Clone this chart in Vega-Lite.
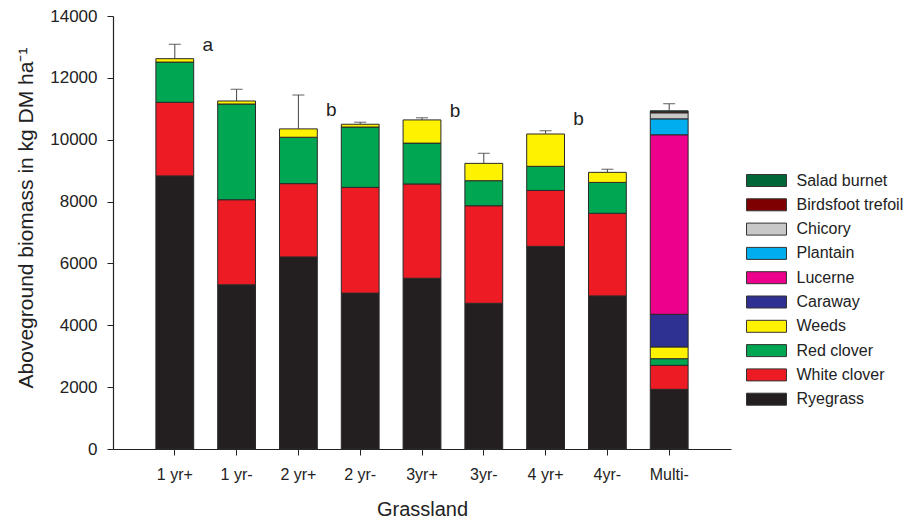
{
  "$schema": "https://vega.github.io/schema/vega-lite/v6.json",
  "width": 618,
  "height": 433,
  "autosize": {"type": "none"},
  "padding": {"left": 113, "top": 16, "right": 178, "bottom": 69},
  "background": "white",
  "config": {
    "view": {"stroke": null},
    "font": "Liberation Sans",
    "axis": {"grid": false, "domainColor": "#222", "tickColor": "#222", "labelColor": "#222", "titleColor": "#222", "titleFontWeight": "normal", "domainWidth": 1.2, "tickWidth": 1}
  },
  "datasets": {
    "bars": [
      {"grassland": "1 yr+", "species": "Ryegrass", "biomass": 8830},
      {"grassland": "1 yr+", "species": "White clover", "biomass": 2380},
      {"grassland": "1 yr+", "species": "Red clover", "biomass": 1300},
      {"grassland": "1 yr+", "species": "Weeds", "biomass": 110},
      {"grassland": "1 yr-", "species": "Ryegrass", "biomass": 5310},
      {"grassland": "1 yr-", "species": "White clover", "biomass": 2750},
      {"grassland": "1 yr-", "species": "Red clover", "biomass": 3095},
      {"grassland": "1 yr-", "species": "Weeds", "biomass": 97},
      {"grassland": "2 yr+", "species": "Ryegrass", "biomass": 6210},
      {"grassland": "2 yr+", "species": "White clover", "biomass": 2370},
      {"grassland": "2 yr+", "species": "Red clover", "biomass": 1500},
      {"grassland": "2 yr+", "species": "Weeds", "biomass": 270},
      {"grassland": "2 yr-", "species": "Ryegrass", "biomass": 5040},
      {"grassland": "2 yr-", "species": "White clover", "biomass": 3420},
      {"grassland": "2 yr-", "species": "Red clover", "biomass": 1950},
      {"grassland": "2 yr-", "species": "Weeds", "biomass": 90},
      {"grassland": "3yr+", "species": "Ryegrass", "biomass": 5520},
      {"grassland": "3yr+", "species": "White clover", "biomass": 3050},
      {"grassland": "3yr+", "species": "Red clover", "biomass": 1320},
      {"grassland": "3yr+", "species": "Weeds", "biomass": 750},
      {"grassland": "3yr-", "species": "Ryegrass", "biomass": 4710},
      {"grassland": "3yr-", "species": "White clover", "biomass": 3155},
      {"grassland": "3yr-", "species": "Red clover", "biomass": 810},
      {"grassland": "3yr-", "species": "Weeds", "biomass": 560},
      {"grassland": "4 yr+", "species": "Ryegrass", "biomass": 6550},
      {"grassland": "4 yr+", "species": "White clover", "biomass": 1810},
      {"grassland": "4 yr+", "species": "Red clover", "biomass": 780},
      {"grassland": "4 yr+", "species": "Weeds", "biomass": 1045},
      {"grassland": "4yr-", "species": "Ryegrass", "biomass": 4950},
      {"grassland": "4yr-", "species": "White clover", "biomass": 2670},
      {"grassland": "4yr-", "species": "Red clover", "biomass": 1000},
      {"grassland": "4yr-", "species": "Weeds", "biomass": 325},
      {"grassland": "Multi-", "species": "Ryegrass", "biomass": 1930},
      {"grassland": "Multi-", "species": "White clover", "biomass": 775},
      {"grassland": "Multi-", "species": "Red clover", "biomass": 215},
      {"grassland": "Multi-", "species": "Weeds", "biomass": 380},
      {"grassland": "Multi-", "species": "Caraway", "biomass": 1055},
      {"grassland": "Multi-", "species": "Lucerne", "biomass": 5805},
      {"grassland": "Multi-", "species": "Plantain", "biomass": 515},
      {"grassland": "Multi-", "species": "Chicory", "biomass": 195},
      {"grassland": "Multi-", "species": "Birdsfoot trefoil", "biomass": 35},
      {"grassland": "Multi-", "species": "Salad burnet", "biomass": 30}
    ],
    "speciesOrder": [
      {"species": "Ryegrass", "rank": 1},
      {"species": "White clover", "rank": 2},
      {"species": "Red clover", "rank": 3},
      {"species": "Weeds", "rank": 4},
      {"species": "Caraway", "rank": 5},
      {"species": "Lucerne", "rank": 6},
      {"species": "Plantain", "rank": 7},
      {"species": "Chicory", "rank": 8},
      {"species": "Birdsfoot trefoil", "rank": 9},
      {"species": "Salad burnet", "rank": 10}
    ],
    "err": [
      {"grassland": "1 yr+", "total": 12620, "upper": 13085},
      {"grassland": "1 yr-", "total": 11252, "upper": 11630},
      {"grassland": "2 yr+", "total": 10350, "upper": 11445},
      {"grassland": "2 yr-", "total": 10500, "upper": 10565},
      {"grassland": "3yr+", "total": 10640, "upper": 10710},
      {"grassland": "3yr-", "total": 9235, "upper": 9560},
      {"grassland": "4 yr+", "total": 10185, "upper": 10290},
      {"grassland": "4yr-", "total": 8945, "upper": 9045},
      {"grassland": "Multi-", "total": 10935, "upper": 11165}
    ],
    "letters": [
      {"grassland": "1 yr+", "letter": "a", "pos": 12880},
      {"grassland": "2 yr+", "letter": "b", "pos": 10760},
      {"grassland": "3yr+", "letter": "b", "pos": 10745},
      {"grassland": "4 yr+", "letter": "b", "pos": 10475}
    ]
  },
  "layer": [
    {
      "data": {"name": "bars"},
      "transform": [
        {"lookup": "species", "from": {"data": {"name": "speciesOrder"}, "key": "species", "fields": ["rank"]}}
      ],
      "mark": {"type": "bar", "stroke": "#2a2a2a", "strokeWidth": 1},
      "encoding": {
        "x": {
          "field": "grassland", "type": "nominal",
          "scale": {"type": "band", "domain": ["1 yr+", "1 yr-", "2 yr+", "2 yr-", "3yr+", "3yr-", "4 yr+", "4yr-", "Multi-"], "paddingInner": 0.388, "paddingOuter": 0.694},
          "axis": {"labelAngle": 0, "tickSize": 6, "labelFontSize": 16, "labelPadding": 11.6, "title": "Grassland", "titleFontSize": 20, "titleX": 309, "titleY": 66, "titleBaseline": "alphabetic", "titleAlign": "center"}
        },
        "y": {
          "field": "biomass", "type": "quantitative", "aggregate": "sum", "stack": "zero",
          "scale": {"domain": [0, 14000], "nice": false},
          "axis": {"values": [0, 2000, 4000, 6000, 8000, 10000, 12000, 14000], "format": "d", "tickSize": 6, "labelFontSize": 17, "labelPadding": 10, "title": "Aboveground biomass in kg DM ha⁻¹", "titleFontSize": 21, "titleX": -87, "titleY": 201.5, "titleAngle": -90, "titleAlign": "center", "titleBaseline": "middle"}
        },
        "order": {"field": "rank", "type": "quantitative", "aggregate": "min", "sort": "ascending"},
        "color": {
          "field": "species", "type": "nominal",
          "scale": {
            "domain": ["Ryegrass", "White clover", "Red clover", "Weeds", "Caraway", "Lucerne", "Plantain", "Chicory", "Birdsfoot trefoil", "Salad burnet"],
            "range": ["#231f20", "#ed1c24", "#00a651", "#fff200", "#2e3192", "#ec008c", "#00aeef", "#c8c8c8", "#7f0000", "#006838"]
          },
          "legend": {
            "title": null,
            "values": ["Salad burnet", "Birdsfoot trefoil", "Chicory", "Plantain", "Lucerne", "Caraway", "Weeds", "Red clover", "White clover", "Ryegrass"],
            "orient": "none", "legendX": 645.5, "legendY": 156.5, "padding": 0,
            "symbolType": "M-3.33,-1H3.33V1H-3.33Z", "symbolSize": 144,
            "symbolStrokeColor": "#333", "symbolStrokeWidth": 1, "symbolOpacity": 1,
            "labelFontSize": 16, "labelColor": "#222", "labelOffset": 22, "rowPadding": 8.3
          }
        }
      }
    },
    {
      "data": {"name": "err"},
      "mark": {"type": "rule", "color": "#444", "strokeWidth": 1},
      "encoding": {
        "x": {"field": "grassland", "type": "nominal", "scale": {"type": "band", "domain": ["1 yr+", "1 yr-", "2 yr+", "2 yr-", "3yr+", "3yr-", "4 yr+", "4yr-", "Multi-"], "paddingInner": 0.388, "paddingOuter": 0.694}},
        "y": {"field": "total", "type": "quantitative", "title": "Aboveground biomass in kg DM ha⁻¹"},
        "y2": {"field": "upper"}
      }
    },
    {
      "data": {"name": "err"},
      "mark": {"type": "tick", "color": "#444", "size": 12, "thickness": 1.2},
      "encoding": {
        "x": {"field": "grassland", "type": "nominal", "scale": {"type": "band", "domain": ["1 yr+", "1 yr-", "2 yr+", "2 yr-", "3yr+", "3yr-", "4 yr+", "4yr-", "Multi-"], "paddingInner": 0.388, "paddingOuter": 0.694}},
        "y": {"field": "upper", "type": "quantitative", "title": "Aboveground biomass in kg DM ha⁻¹"}
      }
    },
    {
      "data": {"name": "letters"},
      "mark": {"type": "text", "fontSize": 19, "color": "#222", "xOffset": 33, "baseline": "alphabetic", "align": "center"},
      "encoding": {
        "x": {"field": "grassland", "type": "nominal", "scale": {"type": "band", "domain": ["1 yr+", "1 yr-", "2 yr+", "2 yr-", "3yr+", "3yr-", "4 yr+", "4yr-", "Multi-"], "paddingInner": 0.388, "paddingOuter": 0.694}},
        "y": {"field": "pos", "type": "quantitative", "title": "Aboveground biomass in kg DM ha⁻¹"},
        "text": {"field": "letter"}
      }
    }
  ]
}
